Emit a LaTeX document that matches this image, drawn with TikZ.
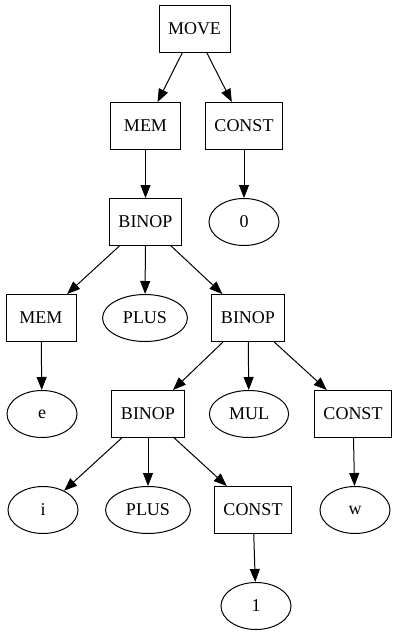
\documentclass[tikz,border=0pt]{standalone}
\usepackage{fontspec}
\setmainfont{Liberation Serif}
\usetikzlibrary{shapes.geometric,arrows.meta}
\begin{document}
\begin{tikzpicture}[x=1pt,y=-1pt,
  every node/.style={font=\fontsize{18}{20}\selectfont, line width=1pt},
  bx/.style={draw, rectangle, minimum height=47pt, minimum width=70pt, inner xsep=9pt},
  el/.style={draw, ellipse, minimum height=47pt, minimum width=70pt, inner xsep=8pt},
  edge/.style={draw, line width=1pt, -{Triangle[length=13pt,width=10pt]}}]
\useasboundingbox (0,0) rectangle (401,635);
\node[bx] (move) at (194.5,28.5) {MOVE};
\node[bx] (mem1) at (145.5,126) {MEM};
\node[bx] (const1) at (244,126) {CONST};
\node[bx] (binop1) at (145.5,222) {BINOP};
\node[el] (zero) at (244,222) {0};
\node[bx] (mem2) at (41,318) {MEM};
\node[el] (plus1) at (145,318) {PLUS};
\node[bx] (binop2) at (248,318) {BINOP};
\node[el] (e) at (42,414) {e};
\node[bx] (binop3) at (148,414) {BINOP};
\node[el] (mul) at (249,414) {MUL};
\node[bx] (const2) at (353,414) {CONST};
\node[el] (i) at (43,510) {i};
\node[el] (plus2) at (148,510) {PLUS};
\node[bx] (const3) at (253,510) {CONST};
\node[el] (w) at (355,510) {w};
\node[el] (one) at (256,606) {1};
\draw[edge] (move) -- (mem1);
\draw[edge] (move) -- (const1);
\draw[edge] (mem1) -- (binop1);
\draw[edge] (const1) -- (zero);
\draw[edge] (binop1) -- (mem2);
\draw[edge] (binop1) -- (plus1);
\draw[edge] (binop1) -- (binop2);
\draw[edge] (mem2) -- (e);
\draw[edge] (binop2) -- (binop3);
\draw[edge] (binop2) -- (mul);
\draw[edge] (binop2) -- (const2);
\draw[edge] (binop3) -- (i);
\draw[edge] (binop3) -- (plus2);
\draw[edge] (binop3) -- (const3);
\draw[edge] (const2) -- (w);
\draw[edge] (const3) -- (one);
\end{tikzpicture}
\end{document}
